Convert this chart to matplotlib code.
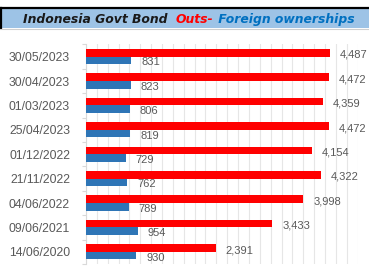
import numpy as np
import matplotlib
matplotlib.use('Agg')
import matplotlib.pyplot as plt
from matplotlib.patches import Rectangle
from matplotlib.lines import Line2D

# data, top row first as shown in the chart
dates = ['30/05/2023', '30/04/2023', '01/03/2023', '25/04/2023', '01/12/2022',
         '21/11/2022', '04/06/2022', '09/06/2021', '14/06/2020']
outs = [4487, 4472, 4359, 4472, 4154, 4322, 3998, 3433, 2391]
foreign = [831, 823, 806, 819, 729, 762, 789, 954, 930]

red = '#FF0000'
blue = '#2E75B6'
grey_txt = '#595959'

plt.rcParams['font.family'] = ['Liberation Sans', 'DejaVu Sans']

fig = plt.figure(figsize=(3.69, 2.75), dpi=100)
ax = fig.add_axes([0.233, 0.04, 0.736, 0.7985])

n = len(dates)
y = np.arange(n)[::-1]
h = 0.31
ax.barh(y + h / 2, outs, height=h, color=red, zorder=3)
ax.barh(y - h / 2, foreign, height=h, color=blue, zorder=3)

# value labels
for yi, v in zip(y, outs):
    ax.annotate(f'{v:,}', (v, yi + h / 2), xytext=(10, -2), textcoords='offset pixels',
                va='center', ha='left', fontsize=8, color=grey_txt)
for yi, v in zip(y, foreign):
    ax.annotate(f'{v:,}', (v, yi - h / 2), xytext=(10, -2), textcoords='offset pixels',
                va='center', ha='left', fontsize=8, color=grey_txt)

ax.set_xlim(0, 5000)
ax.set_ylim(-0.5, n - 0.5)
ax.set_xticks(np.arange(0, 5001, 200))
ax.tick_params(axis='x', length=0, labelbottom=False)
ax.grid(axis='x', color='#E6E6E6', linewidth=0.8, zorder=0)

ax.set_yticks(y)
ax.set_yticklabels(dates, fontsize=8.8, color=grey_txt)
ax.set_yticks(np.arange(-0.5, n, 1), minor=True)
ax.tick_params(axis='y', which='major', length=0, pad=11.5)
ax.tick_params(axis='y', which='minor', length=3, color='#D9D9D9', width=0.8)

for s in ['top', 'right', 'bottom']:
    ax.spines[s].set_visible(False)
ax.spines['left'].set_color('#D9D9D9')
ax.spines['left'].set_linewidth(0.8)

# title band
fig.patches.append(Rectangle((0, 1 - 28 / 275), 1, 19 / 275, transform=fig.transFigure,
                             facecolor='#9DC3E6', edgecolor='none', zorder=1))
fig.lines.append(Line2D([0, 1], [1 - 8 / 275] * 2, transform=fig.transFigure,
                        color='black', linewidth=1.6))
fig.lines.append(Line2D([1 / 369] * 2, [1 - 28 / 275, 1 - 8 / 275], transform=fig.transFigure,
                        color='black', linewidth=1.6))
fig.lines.append(Line2D([0, 1], [1 - 28.5 / 275] * 2, transform=fig.transFigure,
                        color='#D0D0D0', linewidth=0.8))

# title in three colours, placed one after another on the same baseline
tkw = dict(fontsize=8.9, fontweight='bold', fontstyle='italic', family='DejaVu Sans', va='baseline')
base = 1 - 23 / 275
x = 23 / 369
r = fig.canvas.get_renderer()
for s, c in [('Indonesia Govt Bond  ', '#1A1A1A'), ('Outs-', red), (' Foreign ownerships', '#0070C0')]:
    t = fig.text(x, base, s, color=c, **tkw)
    x = t.get_window_extent(r).x1 / fig.bbox.width

fig.savefig('out.png', dpi=100)
